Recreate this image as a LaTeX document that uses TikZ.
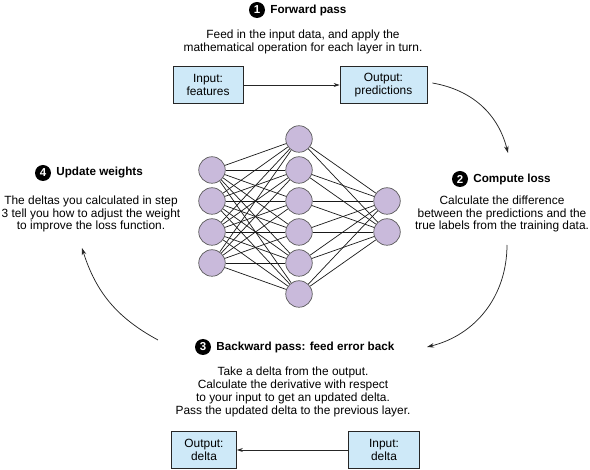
\documentclass[tikz,border=0pt]{standalone}
\usepackage{fontspec}
\setmainfont{Liberation Sans}
\usetikzlibrary{positioning,arrows.meta}
\definecolor{boxblue}{RGB}{206,233,248}
\definecolor{unitlilac}{RGB}{201,186,219}
\begin{document}
\begin{tikzpicture}[x=1pt, y=1pt,
  every node/.style={font=\fontsize{11.9}{12.9}\selectfont, align=center},
  stepdot/.style={circle, fill=black, text=white, inner sep=0pt, minimum size=16pt,
    font=\fontsize{11.5}{11.5}\selectfont\bfseries},
  steptitle/.style={font=\fontsize{11.7}{12.9}\selectfont\bfseries, inner sep=0pt, anchor=west},
  databox/.style={draw=black!85, fill=boxblue, line width=.7pt, minimum height=37pt, inner sep=2pt},
  unit/.style={circle, draw=black!65, fill=unitlilac, line width=.7pt, minimum size=26.5pt, inner sep=0pt},
  synapse/.style={draw=black!90, line width=.7pt},
  flow/.style={draw=black!85, line width=.7pt, -{Stealth[length=6pt,width=4pt]}},
  loopback/.style={draw=black!85, line width=.75pt, -{Stealth[length=7pt,width=4.5pt]}}]
\useasboundingbox (0,0) rectangle (590,-470);
\node[stepdot] (n1) at (257,-10) {1};
\node[steptitle, right=5pt of n1] (fwd) {Forward pass};
\node (fwddesc) at (303,-42) {Feed in the input data, and apply the\\mathematical operation for each layer in turn.};
\node[databox, minimum width=70pt] (feat) at (208,-85) {Input:\\features};
\node[databox, minimum width=87pt] (pred) at (383.5,-85) {Output:\\predictions};
\draw[flow] (feat) -- (pred);
\node[stepdot] (n2) at (460,-179) {2};
\node[steptitle, right=5pt of n2] (loss) {Compute loss};
\node (lossdesc) at (502,-214) {Calculate the difference\\between the predictions and the\\true labels from the training data.};
\node[stepdot] (n3) at (203,-347) {3};
\node[steptitle, right=5pt of n3] (back) {Backward pass: feed error back};
\node (backdesc) at (293,-392) {Take a delta from the output.\\Calculate the derivative with respect\\to your input to get an updated delta.\\Pass the updated delta to the previous layer.};
\node[databox, minimum width=65pt] (outdelta) at (204,-450) {Output:\\delta};
\node[databox, minimum width=71pt] (indelta) at (384,-450) {Input:\\delta};
\draw[flow] (indelta) -- (outdelta);
\node[stepdot] (n4) at (43,-173) {4};
\node[steptitle, right=5pt of n4] (upd) {Update weights};
\node (upddesc) at (91,-214) {The deltas you calculated in step\\3 tell you how to adjust the weight\\to improve the loss function.};
\foreach \i in {1,...,4}
  \node[unit] (in\i) at (212,{-139-31*\i}) {};
\foreach \i in {1,...,6}
  \node[unit] (hid\i) at (299,{-108-31*\i}) {};
\foreach \i in {1,2}
  \node[unit] (out\i) at (387,{-170-31*\i}) {};
\foreach \i in {1,...,4}
  \foreach \j in {1,...,6}
    \draw[synapse] (in\i) -- (hid\j);
\foreach \j in {1,...,6}
  \foreach \k in {1,2}
    \draw[synapse] (hid\j) -- (out\k);
\coordinate (lossin) at (508,-153);
\coordinate (lossout) at (507,-245);
\coordinate (backin) at (427,-347);
\coordinate (backout) at (158,-340);
\coordinate (updin) at (82,-248);
\draw[loopback] ([xshift=5pt,yshift=2pt]pred.east) to[bend left=33] (lossin);
\draw[loopback] (lossout) to[bend left=38] (backin);
\draw[loopback] (backout) to[bend left=22] (updin);
\end{tikzpicture}
\end{document}
